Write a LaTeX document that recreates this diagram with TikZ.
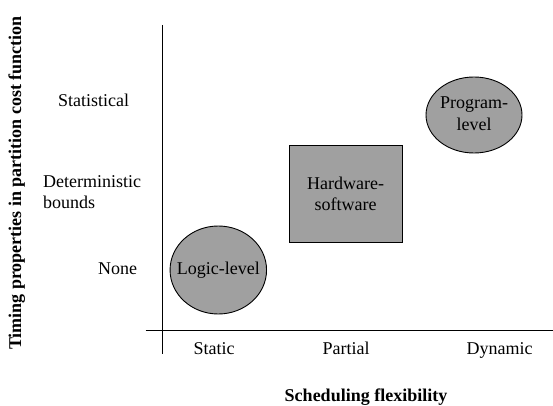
\documentclass[tikz,border=0pt]{standalone}
\usepackage{fontspec}
\setmainfont{Liberation Serif}
\usetikzlibrary{shapes.geometric}
\definecolor{blobgray}{HTML}{A0A0A0}
% text whose width does not enlarge the shape around it
\newcommand{\flatlabel}[1]{\makebox[0pt][c]{\begin{tabular}{@{}c@{}}#1\end{tabular}}}
\tikzset{
  txt/.style={font=\fontsize{18}{21.5}\selectfont, inner sep=0pt},
  boldtxt/.style={font=\fontsize{18}{21.5}\selectfont\bfseries, inner sep=0pt},
  blob/.style={draw=black, line width=0.9pt, fill=blobgray, inner sep=0pt, align=center,
               font=\fontsize{18}{21.5}\selectfont},
  axis/.style={draw=black, line width=0.9pt}
}
\begin{document}
\begin{tikzpicture}[x=1pt,y=-1pt]
\useasboundingbox (0,0) rectangle (553,406);
% axes
\coordinate (vtop) at (162,25);
\coordinate (vbot) at (162,354);
\coordinate (hleft) at (145.5,330);
\coordinate (hright) at (553,330);
\draw[axis] (vtop) -- (vbot);
\draw[axis] (hleft) -- (hright);
% categories on the vertical axis
\node[txt, anchor=base] (stat) at (93.5,106.5) {Statistical};
\node[txt, anchor=base west] (det1) at (43,187) {Deterministic};
\node[txt, anchor=base west] (det2) at (43,208.5) {bounds};
\node[txt, anchor=base] (none) at (117.5,274) {None};
% categories on the horizontal axis
\node[txt, anchor=base] (static) at (214,354.5) {Static};
\node[txt, anchor=base] (partial) at (346,354.5) {Partial};
\node[txt, anchor=base] (dynamic) at (499.5,354.5) {Dynamic};
% axis titles
\node[boldtxt, anchor=base] (xtitle) at (366,401) {Scheduling flexibility};
\node[boldtxt, anchor=base, rotate=90] (ytitle) at (21,183) {Timing properties in partition cost function};
% partitioning levels
\node[blob, ellipse, minimum width=96.5pt, minimum height=88pt] (logic) at (218.3,270) {\flatlabel{Logic-level}};
\node[blob, rectangle, minimum width=112.7pt, minimum height=96.3pt] (hw) at (345.7,193.9) {Hardware-\\software};
\node[blob, ellipse, minimum width=96pt, minimum height=76pt] (prog) at (474,115) {\flatlabel{Program-\\level}};
\end{tikzpicture}
\end{document}
